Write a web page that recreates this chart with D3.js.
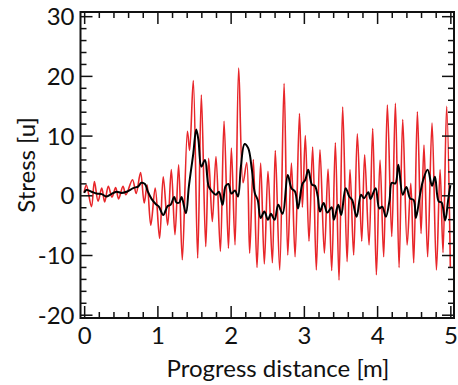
<!DOCTYPE html>
<html lang="en">
<head>
    <meta charset="UTF-8">
    <title>Stress vs Progress distance</title>
    <script src="https://d3js.org/d3.v7.min.js"></script>
    <style>
        body { margin: 0; background: #fff; }
        text { font-family: "Lato", "Open Sans", sans-serif; fill: #111; }
    </style>
</head>
<body>
    <div id="chart-container"></div>
    <script>
        // raw signal (peaks and troughs)
        const redX = [0.00, 0.03, 0.10, 0.14, 0.19, 0.24, 0.28, 0.33, 0.38, 0.43, 0.47, 0.53, 0.57, 0.66, 0.71,
            0.77, 0.82, 0.86, 0.91, 0.97, 1.03, 1.08, 1.14, 1.19, 1.24, 1.29, 1.34, 1.41, 1.44, 1.49,
            1.55, 1.60, 1.66, 1.70, 1.75, 1.80, 1.86, 1.91, 1.97, 2.01, 2.06, 2.11, 2.17, 2.22, 2.26,
            2.31, 2.36, 2.41, 2.46, 2.51, 2.57, 2.61, 2.67, 2.73, 2.78, 2.83, 2.88, 2.94, 2.98, 3.02,
            3.07, 3.12, 3.17, 3.22, 3.28, 3.33, 3.38, 3.43, 3.48, 3.53, 3.59, 3.63, 3.68, 3.73, 3.79,
            3.83, 3.89, 3.94, 3.99, 4.04, 4.09, 4.14, 4.20, 4.25, 4.30, 4.35, 4.41, 4.46, 4.50, 4.55,
            4.60, 4.64, 4.69, 4.75, 4.81, 4.86, 4.90, 4.95, 5.00];
        const redY = [0.5, 1.7, -1.9, 2.3, -1.0, 1.2, -1.1, 1.5, -0.3, 1.3, -0.6, 1.5, 0.1, 2.6, 0.3,
            3.8, -1.3, 1.7, -5.0, 1.2, -7.2, 3.1, -5.0, 4.3, -6.6, 5.1, -10.8, 10.7, 7.5, 19.2,
            -10.5, 16.8, -8.6, 6.2, -4.4, 6.5, -9.4, 12.4, -8.9, 7.9, -8.3, 21.3, 2.1, 5.5, -9.7,
            6.0, -12.1, 5.4, -11.5, 4.0, -11.3, 7.5, -12.5, 18.7, -10.0, 5.4, -10.3, 13.7, -2.0, 10.0,
            -7.7, 8.1, -12.5, 7.6, -9.7, 4.4, -12.6, 8.8, -14.2, 14.8, -11.1, 4.3, -10.0, 10.3, -7.7,
            6.8, -8.3, 11.2, -13.3, 5.9, -10.3, 15.1, -6.9, 15.4, -12.1, 12.7, -8.3, 2.0, -11.3, 14.0,
            -6.4, 8.4, -10.3, 12.1, -12.5, 4.3, -9.6, 14.9, -12.0];

        // smoothed signal
        const blackX = [0.00, 0.03, 0.10, 0.17, 0.24, 0.30, 0.37, 0.44, 0.51, 0.58, 0.67, 0.74, 0.78, 0.83, 0.87,
            0.92, 0.98, 1.02, 1.08, 1.14, 1.18, 1.23, 1.26, 1.30, 1.33, 1.39, 1.43, 1.49, 1.53, 1.56,
            1.60, 1.65, 1.70, 1.75, 1.80, 1.84, 1.89, 1.93, 1.97, 2.01, 2.06, 2.10, 2.14, 2.19, 2.24,
            2.29, 2.33, 2.37, 2.41, 2.46, 2.51, 2.55, 2.60, 2.65, 2.71, 2.78, 2.83, 2.88, 2.92, 2.98,
            3.02, 3.06, 3.11, 3.15, 3.19, 3.22, 3.27, 3.32, 3.38, 3.41, 3.47, 3.51, 3.57, 3.62, 3.66,
            3.72, 3.78, 3.82, 3.88, 3.91, 3.98, 4.03, 4.07, 4.12, 4.17, 4.20, 4.25, 4.29, 4.35, 4.40,
            4.45, 4.50, 4.53, 4.59, 4.63, 4.69, 4.75, 4.79, 4.84, 4.88, 4.93, 4.97, 5.00];
        const blackY = [0.4, 0.9, 0.6, 0.3, 0.2, -0.2, 0.2, 0.6, 0.4, 0.6, 1.2, 1.5, 2.1, 1.9, 0.6,
            -0.6, -1.5, -1.9, -3.3, -1.8, -1.6, -0.3, -1.2, -1.2, -0.3, -3.0, 1.5, 7.0, 11.0, 9.3,
            4.8, 5.9, 1.5, 0.6, 0.1, 0.6, -1.6, 1.5, 1.9, 0.3, 0.8, -0.2, 4.8, 8.6, 7.9,
            4.3, 0.4, -0.8, -3.8, -2.7, -4.1, -3.1, -4.1, -1.6, -3.1, 3.4, 1.2, 0.6, -2.2, 1.9,
            2.6, 4.3, 1.8, 1.6, -0.2, -2.7, -1.3, -2.9, -2.0, -4.1, -1.6, -3.3, 1.2, -0.2, -0.8,
            -3.6, 0.1, -0.5, 0.5, -0.6, 1.2, -2.2, -1.9, -3.6, -0.8, 2.1, 2.0, 5.1, 0.1, 1.4,
            -0.5, -0.8, -3.8, 0.4, 2.6, 4.3, 1.6, 3.1, -1.0, -1.2, -4.2, -0.8, 1.7];

        const xTicks = [0, 1, 2, 3, 4, 5];
        const yTicks = [-20, -10, 0, 10, 20, 30];

        const W = 458, H = 385;
        const plot = { left: 80.5, right: 454, top: 12, bottom: 318 };

        const svg = d3.select("#chart-container")
            .append("svg")
            .attr("width", W)
            .attr("height", H);

        const x = d3.scaleLinear().domain([-0.05, 5.05]).range([plot.left, plot.right]);
        const y = d3.scaleLinear().domain([-20.55, 30.7]).range([plot.bottom, plot.top]);

        const xMinor = d3.range(0, 5.01, 0.2).map(v => +v.toFixed(1)).filter(v => !xTicks.includes(v));
        const yMinor = d3.range(-20, 30.1, 2).filter(v => !yTicks.includes(v));

        svg.append("clipPath").attr("id", "clip")
            .append("rect")
            .attr("x", plot.left).attr("y", plot.top)
            .attr("width", plot.right - plot.left)
            .attr("height", plot.bottom - plot.top);

        // lines
        const redData = redX.map((v, i) => [v, redY[i]]);
        const blackData = blackX.map((v, i) => [v, blackY[i]]);

        const line = d3.line()
            .x(d => x(d[0]))
            .y(d => y(d[1]))
            .curve(d3.curveCatmullRom.alpha(0.5));

        svg.append("path")
            .datum(redData)
            .attr("clip-path", "url(#clip)")
            .attr("fill", "none")
            .attr("stroke", "#e8262a")
            .attr("stroke-width", 1.6)
            .attr("d", line);

        svg.append("path")
            .datum(blackData)
            .attr("clip-path", "url(#clip)")
            .attr("fill", "none")
            .attr("stroke", "#000")
            .attr("stroke-width", 2)
            .attr("d", line);

        // axes, ticks pointing inward on all four sides
        function addAxis(axis, tr, values, size, labels) {
            const g = svg.append("g")
                .attr("transform", tr)
                .call(axis.tickValues(values).tickSize(size).tickSizeOuter(0)
                    .tickPadding(labels ? 7 : 0)
                    .tickFormat(labels ? (d => String(d)) : ""));
            g.select(".domain").remove();
            g.selectAll("line").attr("stroke", "#111").attr("stroke-width", 1.5);
            g.selectAll("text").style("font-size", "24px").attr("fill", "#111");
            return g;
        }

        addAxis(d3.axisBottom(x), `translate(0,${plot.bottom})`, xTicks, -12, true)
            .selectAll("text").attr("y", 26).attr("dy", 0);
        addAxis(d3.axisBottom(x), `translate(0,${plot.bottom})`, xMinor, -6, false);
        addAxis(d3.axisTop(x), `translate(0,${plot.top})`, xTicks, -12, false);
        addAxis(d3.axisTop(x), `translate(0,${plot.top})`, xMinor, -6, false);

        addAxis(d3.axisLeft(y), `translate(${plot.left},0)`, yTicks, -12, true)
            .selectAll("text").attr("x", -6).attr("dy", "0.36em");
        addAxis(d3.axisLeft(y), `translate(${plot.left},0)`, yMinor, -6, false);
        addAxis(d3.axisRight(y), `translate(${plot.right},0)`, yTicks, -12, false);
        addAxis(d3.axisRight(y), `translate(${plot.right},0)`, yMinor, -6, false);

        // frame
        svg.append("rect")
            .attr("x", plot.left).attr("y", plot.top)
            .attr("width", plot.right - plot.left)
            .attr("height", plot.bottom - plot.top)
            .attr("fill", "none")
            .attr("stroke", "#111")
            .attr("stroke-width", 2);

        // axis labels
        svg.append("text")
            .attr("x", 278)
            .attr("y", 377)
            .attr("text-anchor", "middle")
            .style("font-size", "24px")
            .text("Progress distance [m]");

        svg.append("text")
            .attr("transform", `translate(35,${(plot.top + plot.bottom) / 2}) rotate(-90)`)
            .attr("text-anchor", "middle")
            .style("font-size", "24px")
            .text("Stress [u]");
    </script>
</body>
</html>
